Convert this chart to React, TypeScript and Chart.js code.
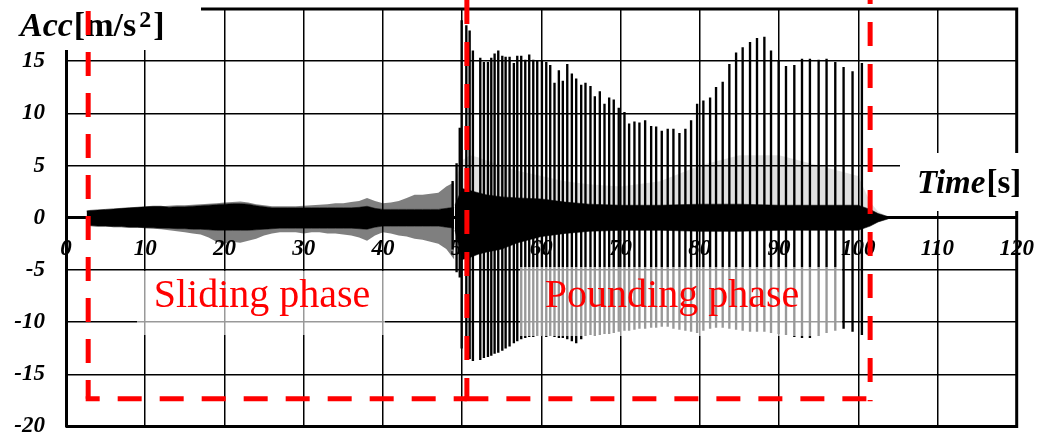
import React, { useEffect, useRef } from 'react';
import { Chart, registerables } from 'chart.js';

Chart.register(...registerables);

const SERIF = "'Liberation Serif', 'Times New Roman', Times, serif";

// axis ranges
const X_MIN = 0;
const X_MAX = 120;
const X_STEP = 10;
const Y_MIN = -20;
const Y_MAX = 20;
const Y_STEP = 5;

// ---- Sliding phase: oscillation envelope (s, m/s^2) ----
const slideTimes = [2.6, 3, 4, 5, 6, 7, 8, 9, 10, 11, 12, 13, 14, 15, 16, 17, 18, 19, 20, 21, 22, 23, 24, 25, 26, 27, 28, 29, 30, 31, 32, 33, 34, 35, 36, 37, 38, 39, 40, 41, 42, 43, 44, 45, 46, 47, 48, 49];
const slideUpper = [0.65, 0.7, 0.75, 0.8, 0.85, 0.9, 0.95, 1.0, 1.05, 1.1, 1.1, 1.15, 1.2, 1.2, 1.25, 1.3, 1.35, 1.4, 1.45, 1.5, 1.55, 1.45, 1.3, 1.2, 1.1, 1.1, 1.1, 1.1, 1.15, 1.2, 1.25, 1.3, 1.4, 1.4, 1.5, 1.6, 1.9, 1.6, 1.4, 1.45, 1.6, 1.9, 2.2, 2.2, 2.3, 2.4, 3.0, 3.4];
const slideCoreUpper = [0.65, 0.7, 0.75, 0.8, 0.85, 0.9, 0.95, 1.0, 1.05, 1.1, 1.1, 1.0, 1.05, 1.05, 1.1, 1.15, 1.2, 1.25, 1.3, 1.35, 1.35, 1.3, 1.15, 1.05, 0.95, 0.95, 0.95, 0.95, 0.95, 0.95, 0.95, 0.95, 0.95, 0.95, 0.95, 1.0, 1.1, 0.9, 0.8, 0.8, 0.8, 0.8, 0.8, 0.8, 0.8, 0.8, 0.9, 1.0];
const slideCoreLower = [-0.7, -0.75, -0.8, -0.8, -0.85, -0.85, -0.9, -0.9, -0.95, -0.95, -1.0, -1.0, -1.05, -1.05, -1.1, -1.1, -1.15, -1.2, -1.2, -1.2, -1.2, -1.2, -1.15, -1.1, -1.05, -1.0, -1.0, -1.0, -1.0, -1.0, -1.0, -1.0, -1.0, -1.0, -1.0, -1.05, -1.1, -0.9, -0.8, -0.8, -0.8, -0.8, -0.8, -0.8, -0.8, -0.8, -0.9, -1.0];
const slideLower = [-0.75, -0.8, -0.85, -0.85, -0.9, -0.9, -0.95, -0.95, -1.0, -1.05, -1.1, -1.2, -1.3, -1.4, -1.5, -1.6, -1.9, -2.3, -2.5, -2.3, -2.4, -2.2, -2.0, -1.7, -1.5, -1.4, -1.4, -1.4, -1.5, -1.4, -1.4, -1.5, -1.5, -1.6, -1.7, -1.9, -2.2, -1.7, -1.4, -1.5, -1.7, -1.8, -2.0, -2.1, -2.3, -2.5, -3.0, -4.0];

// ---- Pounding phase: impact spikes ----
const spikeTimes = [48.8, 49.3, 49.7, 49.94, 50.53, 50.95, 51.36, 52.29, 52.75, 53.26, 53.68, 54.10, 54.56, 55.07, 55.49, 55.99, 56.53, 56.96, 57.46, 57.97, 58.47, 58.98, 59.48, 60.07, 60.62, 61.12, 61.66, 62.21, 62.71, 63.27, 63.85, 64.40, 65.03, 65.57, 66.20, 66.75, 67.38, 67.97, 68.56, 69.14, 69.77, 70.49, 71.08, 71.75, 72.38, 73.10, 73.86, 74.49, 75.20, 75.95, 76.67, 77.43, 78.18, 78.90, 79.66, 80.45, 81.30, 82.05, 82.89, 83.73, 84.58, 85.41, 86.34, 87.22, 88.15, 88.99, 89.95, 90.88, 91.93, 92.90, 93.90, 95.00, 96.00, 97.10, 98.15, 99.28, 100.46];
const spikePeaks = [3.5, 5.2, 8.6, 18.9, 18.4, 17.9, 16.0, 15.3, 14.9, 14.9, 15.3, 15.7, 16.0, 15.5, 15.4, 15.4, 14.8, 15.5, 15.5, 15.1, 15.6, 15.1, 15.0, 15.0, 14.9, 14.6, 12.9, 14.1, 13.1, 14.7, 13.8, 13.3, 12.7, 12.9, 12.6, 11.6, 12.1, 10.9, 11.5, 11.3, 10.5, 10.1, 9.0, 9.2, 9.1, 9.3, 8.75, 8.7, 8.3, 8.5, 8.5, 8.1, 8.5, 9.3, 10.9, 11.2, 11.5, 12.5, 13.0, 14.7, 15.8, 16.3, 16.8, 17.2, 17.3, 16.0, 15.0, 14.5, 14.6, 15.2, 15.2, 15.1, 15.2, 14.9, 14.4, 14.0, 14.8];
const spikeTroughs = [-3.0, -5.2, -5.7, -12.5, -13.2, -13.5, -13.7, -13.6, -13.4, -13.3, -13.2, -13.0, -12.9, -12.7, -12.5, -12.3, -12.0, -11.8, -11.6, -11.5, -11.4, -11.4, -11.3, -11.3, -11.4, -11.3, -11.4, -11.5, -11.5, -11.6, -11.8, -12.0, -11.6, -11.3, -11.2, -11.3, -11.2, -11.1, -11.1, -11.0, -10.9, -10.8, -10.8, -10.7, -10.6, -10.6, -10.5, -10.5, -10.4, -10.4, -10.6, -10.7, -10.8, -10.9, -11.0, -10.8, -10.6, -10.5, -10.5, -10.6, -10.7, -10.8, -10.9, -10.9, -10.9, -11.0, -11.1, -11.2, -11.4, -11.5, -11.5, -11.3, -11.0, -10.8, -10.6, -10.9, -11.2];

// ---- Pounding phase: background vibration envelope ----
const poundTimes = [49.1, 50.0, 51.0, 52.0, 53.0, 55.0, 57.0, 60.0, 63.0, 66.0, 70.0, 75.0, 80.0, 85.0, 90.0, 95.0, 100.0, 101.5, 102.5, 103.8];
const poundSecondary = [3.5, 5.5, 6.0, 5.8, 5.5, 5.0, 4.5, 4.0, 3.5, 3.2, 3.0, 3.5, 5.0, 6.0, 6.0, 5.0, 4.0, 1.5, 0.6, 0.1];
const poundCoreUpper = [1.2, 2.8, 2.6, 2.4, 2.2, 2.0, 1.9, 1.8, 1.5, 1.3, 1.2, 1.2, 1.3, 1.3, 1.2, 1.2, 1.2, 0.8, 0.4, 0.1];
const poundCoreLower = [-1.2, -4.0, -3.8, -3.5, -3.3, -3.0, -2.4, -1.8, -1.5, -1.3, -1.2, -1.2, -1.3, -1.3, -1.2, -1.2, -1.2, -0.8, -0.4, -0.1];

// ---- annotations ----
const phaseNames = ['Sliding phase', 'Pounding phase'];
const phaseStart = [2.8, 50.6];
const phaseEnd = [50.6, 101.5];
const phaseBoxBottom = -17.35;

const xy = (ts: number[], vs: number[]) => ts.map((t, i) => ({ x: t, y: vs[i] }));

const band = (data: any, fill: any, bg: string, edge: string) => ({
  type: 'line' as const,
  data,
  fill,
  backgroundColor: bg,
  borderColor: edge,
  borderWidth: 0.6,
  pointRadius: 0,
  tension: 0,
});

const overlay = {
  id: 'overlay',
  afterDraw(chart: any) {
    const { ctx, chartArea: a, scales } = chart;
    const sx = scales.x;
    const sy = scales.y;
    ctx.save();
    // frame
    ctx.strokeStyle = '#000';
    ctx.lineWidth = 3;
    ctx.setLineDash([]);
    ctx.beginPath();
    ctx.moveTo(a.left, a.top);
    ctx.lineTo(a.right, a.top);
    ctx.lineTo(a.right, a.bottom);
    ctx.lineTo(a.left, a.bottom);
    ctx.stroke();

    // phase labels with translucent white boxes
    const labelBoxes = [
      { x0: 137, x1: 385, y0: 271, y1: 335 },
      { x0: 520, x1: 842, y0: 267, y1: 336 },
    ];
    const labelCenters = [262, 672];
    labelBoxes.forEach((b, i) => {
      ctx.fillStyle = 'rgba(255,255,255,0.6)';
      ctx.fillRect(b.x0, b.y0, b.x1 - b.x0, b.y1 - b.y0);
      ctx.fillStyle = '#ff0000';
      ctx.font = `40px ${SERIF}`;
      ctx.textAlign = 'center';
      ctx.textBaseline = 'alphabetic';
      ctx.fillText(phaseNames[i], labelCenters[i], 307);
    });

    // y-axis title
    ctx.fillStyle = '#fff';
    ctx.fillRect(0, 0, 201, 50);
    ctx.fillStyle = '#000';
    ctx.textAlign = 'left';
    ctx.textBaseline = 'alphabetic';
    let cx = 20;
    ctx.font = `italic bold 34px ${SERIF}`;
    ctx.fillText('Acc', cx, 36);
    cx += ctx.measureText('Acc').width + 1;
    ctx.font = `bold 34px ${SERIF}`;
    ctx.fillText('[m/s', cx, 36);
    cx += ctx.measureText('[m/s').width + 3;
    ctx.font = `bold 24px ${SERIF}`;
    ctx.fillText('2', cx, 27);
    cx += ctx.measureText('2').width + 2;
    ctx.font = `bold 34px ${SERIF}`;
    ctx.fillText(']', cx, 36);

    // x-axis title
    ctx.fillStyle = '#fff';
    ctx.fillRect(900, 153, 138, 58);
    ctx.fillStyle = '#000';
    let tx = 917;
    ctx.font = `italic bold 33px ${SERIF}`;
    ctx.fillText('Time', tx, 193);
    tx += ctx.measureText('Time').width + 1;
    ctx.font = `bold 33px ${SERIF}`;
    ctx.fillText('[s]', tx, 193);

    // red dashed phase frames
    ctx.strokeStyle = '#ff0000';
    ctx.lineWidth = 5;
    ctx.lineCap = 'butt';
    const yb = sy.getPixelForValue(phaseBoxBottom);
    const seg = (x0: number, y0: number, x1: number, y1: number, dash: number[], off: number) => {
      ctx.setLineDash(dash);
      ctx.lineDashOffset = off;
      ctx.beginPath();
      ctx.moveTo(x0, y0);
      ctx.lineTo(x1, y1);
      ctx.stroke();
    };
    const sL = sx.getPixelForValue(phaseStart[0]);
    const pL = sx.getPixelForValue(phaseStart[1]);
    const pR = sx.getPixelForValue(phaseEnd[1]);
    seg(sL, -30, sL, yb, [24, 17], 0);
    seg(sL - 2.5, yb, pL, yb, [24, 18], 10);
    seg(pL, 0, pL, yb, [24, 18], 0);
    seg(pL - 2.5, yb, pR, yb, [24, 18], 0);
    seg(pR, -20, pR, yb + 2.5, [24, 18], 0);
    ctx.restore();
  },
};

export default function App() {
  const ref = useRef<HTMLCanvasElement | null>(null);
  useEffect(() => {
    if (!ref.current) return;
    const tickFont = { family: SERIF, size: 23, style: 'italic' as const, weight: 'bold' as const };
    const chart = new Chart(ref.current, {
      type: 'bar',
      data: {
        datasets: [
          {
            type: 'bar',
            data: spikeTimes.map((t, i) => ({ x: t, y: [spikeTroughs[i], spikePeaks[i]] })) as any,
            backgroundColor: '#000',
            borderWidth: 0,
            barThickness: 1.7,
            grouped: false,
          } as any,
          band(xy(slideTimes, slideUpper), '+1', 'rgba(0,0,0,0.5)', 'rgba(0,0,0,0)'),
          band(xy(slideTimes, slideCoreUpper), '+1', '#000', '#000'),
          band(xy(slideTimes, slideCoreLower), '+1', 'rgba(0,0,0,0.5)', '#000'),
          band(xy(slideTimes, slideLower), false, 'rgba(0,0,0,0)', 'rgba(0,0,0,0)'),
          band(xy(poundTimes, poundSecondary), '+1', 'rgba(0,0,0,0.12)', 'rgba(0,0,0,0)'),
          band(xy(poundTimes, poundCoreUpper), '+1', '#000', '#000'),
          band(xy(poundTimes, poundCoreLower), false, 'rgba(0,0,0,0)', '#000'),
        ] as any,
      },
      options: {
        responsive: false,
        animation: false,
        events: [],
        layout: { padding: { top: 9, bottom: 7.5, left: 0, right: 21.3 } },
        plugins: {
          legend: { display: false },
          tooltip: { enabled: false },
          title: { display: false },
        },
        scales: {
          x: {
            type: 'linear',
            min: X_MIN,
            max: X_MAX,
            position: { y: 0 } as any,
            offset: false,
            grid: { color: '#000', lineWidth: 1.5, drawTicks: false, offset: false },
            border: { color: '#000', width: 3 },
            ticks: { stepSize: X_STEP, padding: 18, color: '#000', font: tickFont, maxRotation: 0, autoSkip: false },
            afterFit: (s: any) => {
              s.paddingLeft = 0;
              s.paddingRight = 0;
            },
          },
          y: {
            type: 'linear',
            min: Y_MIN,
            max: Y_MAX,
            position: 'left',
            grid: { color: '#000', lineWidth: 1.5, drawTicks: false },
            border: { color: '#000', width: 3 },
            ticks: { stepSize: Y_STEP, padding: 21, color: '#000', font: tickFont },
            afterFit: (s: any) => {
              s.width = 66;
              s.paddingTop = 0;
              s.paddingBottom = 0;
            },
          },
        },
      } as any,
      plugins: [overlay],
    });
    return () => chart.destroy();
  }, []);
  return (
    <div style={{ position: 'fixed', left: 0, top: 0, width: 1038, height: 434, background: '#fff' }}>
      <canvas ref={ref} width={1038} height={434} style={{ display: 'block' }} />
    </div>
  );
}
